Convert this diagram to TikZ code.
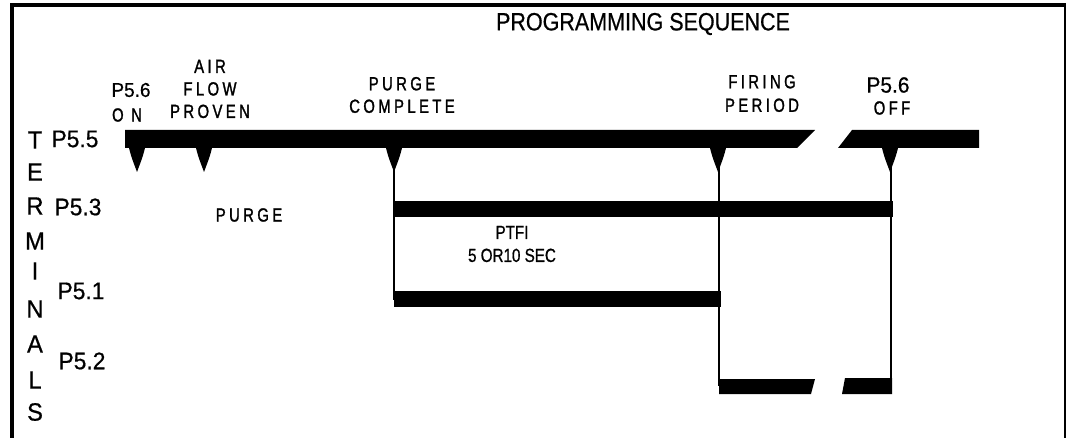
\documentclass[tikz,border=0pt]{standalone}
\usepackage{fontspec}
\setmainfont{Liberation Sans}
\newfontfamily\titlefont{Liberation Sans}[FakeStretch=0.86,FakeBold=0.6]
\newfontfamily\termfont{Liberation Sans}[FakeStretch=0.95,FakeBold=0.6]
\newfontfamily\spacedfont{Liberation Sans}[FakeStretch=0.78,LetterSpace=18,FakeBold=1.4]
\newfontfamily\narrowfont{Liberation Sans}[FakeStretch=0.8,FakeBold=0.8]

\begin{document}
\begin{tikzpicture}[x=1pt, y=-1pt,
        every node/.style={inner sep=0pt},
        termname/.style={font=\termfont\fontsize{24}{24}\selectfont},
        eventtext/.style={font=\spacedfont\fontsize{19}{22.5}\selectfont, align=center},
        signal/.style={line width=1.4pt},
        trigger/.pic={\fill (-8.5,0) .. controls (-6,10) .. (0,26) .. controls (6,10) .. (8.5,0) -- cycle;}]
        \useasboundingbox (0,0) rectangle (1068,438);

        % frame
        \draw[line width=4pt] (12,438) -- (12,5) -- (1066,5);
        \draw[line width=2pt] (1065,5) -- (1065,438);
        \node[font=\titlefont\fontsize{25}{25}\selectfont] (title) at (643,24) {PROGRAMMING SEQUENCE};

        % vertical word
        \foreach \ch/\yy in {T/140, E/172, R/206, M/241, I/271, N/309, A/344, L/380, S/412}
            \node[font=\termfont\fontsize{25}{25}\selectfont] (word\ch) at (35,\yy) {\ch};

        \node[termname] (p55) at (75,139) {P5.5};
        \node[termname] (p53) at (78,207) {P5.3};
        \node[termname] (p51) at (81,291) {P5.1};
        \node[termname] (p52) at (82,361) {P5.2};

        % events
        \node[font=\termfont\fontsize{20}{20}\selectfont] (onpin) at (131,90) {P5.6};
        \node[eventtext] (on) at (127,115) {O N};
        \node[eventtext] (air) at (210,89) {AIR\\FLOW\\PROVEN};
        \node[eventtext] (purgedone) at (402,95) {PURGE\\COMPLETE};
        \node[eventtext, font=\spacedfont\fontsize{19}{23.5}\selectfont] (firing) at (762,93.5) {FIRING\\PERIOD};
        \node[font=\termfont\fontsize{22}{22}\selectfont] (offpin) at (888,85) {P5.6};
        \node[eventtext] (off) at (892,108) {OFF};
        \node[eventtext] (purge) at (249,215) {PURGE};
        \node[font=\narrowfont\fontsize{19}{23}\selectfont, align=center] (ptfi) at (512,244) {PTFI\\5 OR10 SEC};

        % terminal bars
        \fill (125,130) -- (815,130) -- (797,148) -- (125,148) -- cycle;
        \fill (852,130) -- (979,130) -- (979,148) -- (838,148) -- cycle;
        \fill (394,201) rectangle (893,217);
        \fill (394,291) rectangle (721,307);
        \fill (719,379) -- (815,379) -- (811,394) -- (719,394) -- cycle;
        \fill (845,378) -- (892,378) -- (892,394) -- (842,394) -- cycle;

        \foreach \xx in {137,204,394,718,890}
            \pic at (\xx,146) {trigger};

        \coordinate (pc) at (394,165);
        \coordinate (pcend) at (394,300);
        \coordinate (fp) at (719,165);
        \coordinate (fpend) at (719,386);
        \coordinate (of) at (891,165);
        \coordinate (ofend) at (891,386);
        \draw[signal] (pc) -- (pcend);
        \draw[signal] (fp) -- (fpend);
        \draw[signal] (of) -- (ofend);

    \end{tikzpicture}
\end{document}
